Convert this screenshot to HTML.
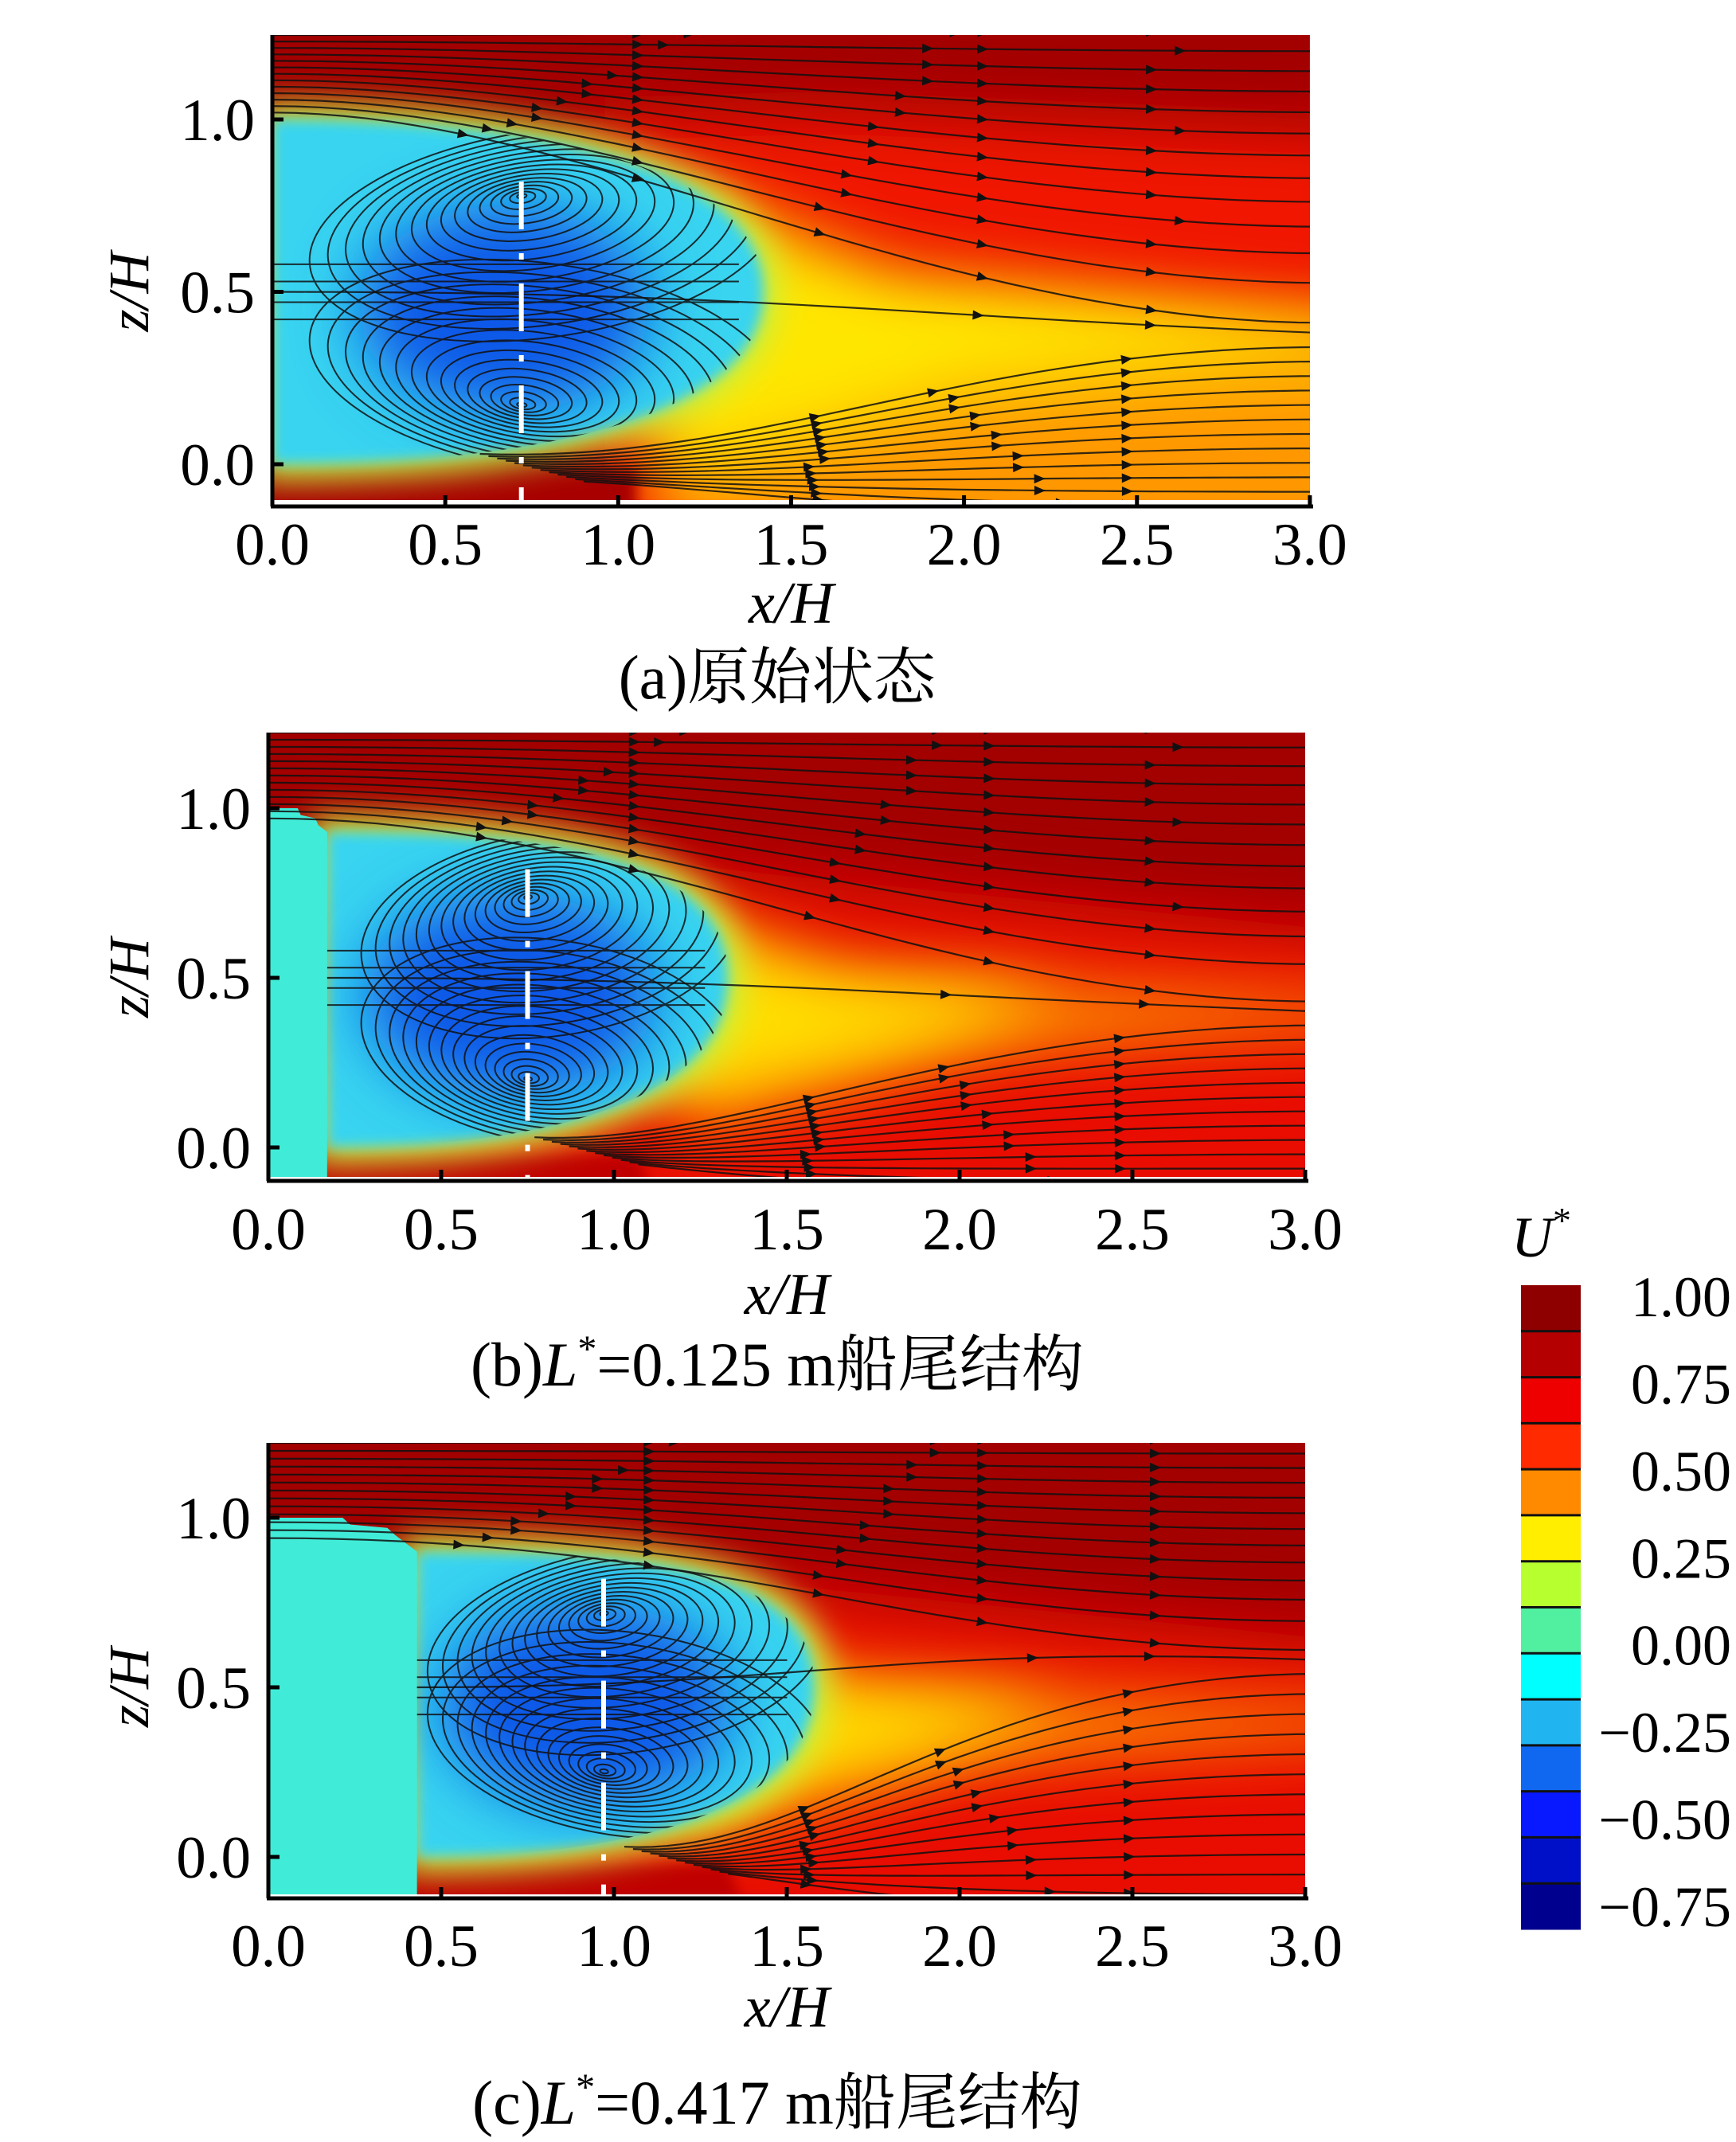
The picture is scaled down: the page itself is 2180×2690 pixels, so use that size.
<!DOCTYPE html>
<html><head><meta charset="utf-8"><style>
html,body{margin:0;padding:0;background:#fff;}
svg{display:block;}
text{font-family:"Liberation Serif","Noto Serif CJK SC","Noto Sans CJK SC",serif;fill:#000;}
</style></head><body>
<svg id="fig" xmlns="http://www.w3.org/2000/svg" width="2180" height="2690" viewBox="0 0 2180 2690">
<defs>
<filter id="b40" x="-50%" y="-50%" width="200%" height="200%"><feGaussianBlur stdDeviation="40"/></filter>
<filter id="b20" x="-50%" y="-50%" width="200%" height="200%"><feGaussianBlur stdDeviation="20"/></filter>
<filter id="b8" x="-50%" y="-50%" width="200%" height="200%"><feGaussianBlur stdDeviation="8"/></filter>
<filter id="b3" x="-50%" y="-50%" width="200%" height="200%"><feGaussianBlur stdDeviation="3"/></filter>
</defs>
</svg>
<script>
const xTicks=[0,0.5,1.0,1.5,2.0,2.5,3.0];
const zTicks=[0,0.5,1.0];
const cbTicks=[1.00,0.75,0.50,0.25,0.00,-0.25,-0.50,-0.75];
const cbBandColors=["#8e0000","#b40000","#ee0000","#ff2a00","#ff8a00","#ffee00","#b8ff30","#50f0a0","#00ffff","#20b4f0","#1068f0","#0818ff","#0010c8","#00008e"];
const blockEnds=[0,0.17,0.43];
const bubbleEnds=[1.42,1.33,1.58];
const bubbleTops=[1.0,0.93,0.9];
const vortexXs=[0.72,0.75,0.97];
const vortexUpperZ=[0.78,0.74,0.72];
const vortexLowerZ=[0.17,0.2,0.25];
const wakeZs=[0.38,0.4,0.58];
const captionsA=["(a)原始状态","(b)","(c)"];
const captionsL=["","=0.125 m船尾结构","=0.417 m船尾结构"];

const geo=[
 {x0:342,xs:434.3,z0:583,zs:433,top:44,bot:628,axisY:636,tickBase:709,xhBase:782,capBase:877},
 {x0:337,xs:434,z0:1441,zs:426,top:920,bot:1478,axisY:1483,tickBase:1569,xhBase:1650,capBase:1740},
 {x0:337,xs:434,z0:2332,zs:426,top:1812,bot:2379,axisY:2384,tickBase:2469,xhBase:2545,capBase:2667}
];
const NS="http://www.w3.org/2000/svg";
const svg=document.getElementById('fig');
const defs=svg.querySelector('defs');
function el(tag,attrs,parent){const e=document.createElementNS(NS,tag);for(const k in attrs)e.setAttribute(k,attrs[k]);parent.appendChild(e);return e;}
function bez(t,a,b,c,d){const u=1-t;return u*u*u*a+3*u*u*t*b+3*u*t*t*c+t*t*t*d;}

geo.forEach((g,i)=>{
 const X=x=>g.x0+x*g.xs, Z=z=>g.z0-z*g.zs;
 const xR3=X(3), zBot=(g.z0-g.bot)/g.zs, zTop=(g.z0-g.top)/g.zs;
 const xL=blockEnds[i], xR=bubbleEnds[i], bt=bubbleTops[i], wz=wakeZs[i], vx=vortexXs[i];
 const panel=el('g',{},svg);
 
 
 const cp=el('clipPath',{id:'clip'+i},defs);
 el('rect',{x:g.x0,y:g.top,width:xR3-g.x0,height:g.bot-g.top},cp);
 const bubD=`M${X(xL)},${Z(bt)} C${X(xL+0.55*(xR-xL))},${Z(bt)} ${X(xR)},${Z(0.86)} ${X(xR)},${Z(0.5)} C${X(xR)},${Z(0.14)} ${X(xL+0.55*(xR-xL))},${Z(0)} ${X(xL)},${Z(0)} Z`;
 const cb=el('clipPath',{id:'bub'+i},defs);
 el('path',{d:bubD},cb);
 const field=el('g',{'clip-path':`url(#clip${i})`},panel);
 
 
 const poly=(pts,fill,f)=>{const p=el('polygon',{points:pts.map(q=>X(q[0])+','+Z(q[1])).join(' '),fill:fill,filter:f?`url(#${f})`:''},field);return p;};
 el('rect',{x:g.x0-50,y:g.top-50,width:xR3-g.x0+100,height:g.bot-g.top+100,fill:'#a30000'},field);
 if(i===0){
  poly([[0.9,1.0],[1.6,1.02],[3.3,0.95],[3.3,-0.3],[0.9,-0.3]],'#f01800','b40');
  poly([[1.1,0.4],[2,0.4],[3.3,0.35],[3.3,-0.3],[1.1,-0.3]],'#ff9800','b40');
  poly([[1.2,0.8],[1.8,0.55],[3.2,0.42],[3.2,0.3],[2,0.2],[1.3,0.0],[1.1,0.0]],'#ffe600','b40');
  poly([[-0.2,-0.02],[1.05,-0.02],[1.05,-0.3],[-0.2,-0.3]],'#a80000','b8');
 }else{
  poly([[xL+0.2,bt],[1.5,0.8],[3.3,0.62],[3.3,-0.3],[xL,-0.3]],'#e81000','b40');
  poly([[1.0,0.75],[1.7,0.5],[3.2,0.43],[3.2,0.36],[2,0.28],[1.2,0.05]],'#ff9a00','b40');
  poly([[1.0,0.7],[1.6,0.5],[2.3,0.45],[2.0,0.33],[1.2,0.15]],'#ffe000','b40');
  poly([[xL,-0.02],[xL+0.9,-0.02],[xL+1.0,-0.3],[xL,-0.3]],'#c00000','b8');
 }
 el('path',{d:bubD,fill:'#a8f050',stroke:'#c8f040','stroke-width':40,filter:'url(#b20)'},field);
 el('path',{d:bubD,fill:'#38d4f0',filter:'url(#b8)'},field);
 el('ellipse',{cx:X(vx-0.05),cy:Z(0.45),rx:0.42*g.xs,ry:0.3*g.zs,fill:'#1058e8',filter:'url(#b40)','clip-path':`url(#bub${i})`},field);
 if(xL>0){
  const pts=[[0,1.0],[xL*0.5,1.0],[xL*0.55,0.98],[xL*0.8,0.97],[xL*0.85,0.95],[xL,bt],[xL,zBot-0.1],[0,zBot-0.1]];
  const b=el('polygon',{points:pts.map(q=>X(q[0])+','+Z(q[1])).join(' '),fill:'#40ecd8'},field);
  
  
 }
 const sl=el('g',{fill:'none',stroke:'#111','stroke-width':2.2,opacity:0.85},field);
 
 
 const arrows=el('g',{fill:'#111'},field);
 
 
 function curve(p0,p1,p2,p3,arrowXs){
  let d='';const pts=[];
  for(let k=0;k<=40;k++){const t=k/40;const x=bez(t,p0[0],p1[0],p2[0],p3[0]),z=bez(t,p0[1],p1[1],p2[1],p3[1]);pts.push([X(x),Z(z)]);d+=(k?'L':'M')+X(x).toFixed(1)+','+Z(z).toFixed(1);}
  const p=el('path',{d:d},sl);
  
  (arrowXs||[]).forEach(ax=>{const px=X(ax);for(let k=1;k<pts.length;k++){if(pts[k][0]>=px){const a=Math.atan2(pts[k][1]-pts[k-1][1],pts[k][0]-pts[k-1][0])*180/Math.PI;const tr=el('polygon',{points:'7,0 -7,-6 -7,6',transform:`translate(${pts[k][0]},${pts[k][1]}) rotate(${a})`},arrows);break;}}});
 }
 const nU=12;
 for(let k=0;k<=nU;k++){const t=k/nU;const zs=(i?bt+0.04:1.02)+t*(zTop-(i?bt+0.04:1.02));const ze=wz+0.03+Math.pow(t,0.8)*(zTop-0.02-wz);
  curve([0,zs],[xL+0.9,zs],[1.9,ze],[3.05,ze],[0.55+0.05*k%3,1.05,1.55+0.03*k,2.05,2.5+0.02*(k%4)]);}
 const nL=12;
 for(let k=0;k<=nL;k++){const t=k/nL;const zs=0.0-t*0.08;const ze=wz-0.04-t*(wz-zBot+0.02);
  curve([xL+0.9-0.3*(1-t),zs+0.03],[xR,zs],[2.0,ze],[3.05,ze],[1.55,1.9+0.03*k,2.45]);}
 curve([xL,0.5],[xR,0.5],[1.8,wz+0.05],[3.05,wz],[xR+0.6,2.5]);
 const vg=el('g',{'clip-path':`url(#bub${i})`,fill:'none',stroke:'#111','stroke-width':2,opacity:0.85},field);
 
 
 [[vortexUpperZ[i],-8],[vortexLowerZ[i],8]].forEach(v=>{
  const rxm=Math.max(vx-xL,xR-vx)*0.95, rym=0.3;
  for(let k=1;k<=16;k++){const f=Math.pow(k/16,1.4);const e=el('ellipse',{cx:X(vx+0.05*f),cy:Z(v[0]+(v[1]<0?-0.12:0.12)*f),rx:rxm*f*g.xs,ry:rym*f*g.zs,transform:`rotate(${v[1]} ${X(vx)} ${Z(v[0])})`},vg);}
 });
 [0.42,0.47,0.53,0.58].forEach(z=>{const e=el('line',{x1:X(xL),y1:Z(z),x2:X(xR*0.95),y2:Z(z)},vg);});
 const dash=el('line',{x1:X(vx),y1:Z(0.82),x2:X(vx),y2:g.bot,stroke:'#fff','stroke-width':6,'stroke-dasharray':'60 30 8 30'},field);
 
 
 const ax=el('g',{stroke:'#000','stroke-width':5,fill:'none'},panel);
 
 
 el('line',{x1:g.x0,y1:g.top,x2:g.x0,y2:g.axisY},ax);
 el('line',{x1:g.x0-2,y1:g.axisY,x2:X(3)+4,y2:g.axisY},ax);
 xTicks.forEach(v=>{const t=el('line',{x1:X(v),y1:g.axisY,x2:X(v),y2:g.axisY-14},ax);
  const tx=el('text',{x:X(v),y:g.tickBase,'font-size':75,'text-anchor':'middle'},panel);tx.textContent=v.toFixed(1);
  });
 zTicks.forEach(v=>{const t=el('line',{x1:g.x0,y1:Z(v),x2:g.x0+14,y2:Z(v)},ax);
  const tx=el('text',{x:g.x0-22,y:Z(v)+26,'font-size':75,'text-anchor':'end'},panel);tx.textContent=v.toFixed(1);
  });
 const zl=el('text',{x:0,y:0,'font-size':72,'font-style':'italic','text-anchor':'middle',transform:`translate(186 ${Z(0.5)}) rotate(-90)`},panel);
 zl.textContent='z/H';
 
 
 const xl=el('text',{x:(g.x0+X(3))/2,y:g.xhBase,'font-size':74,'font-style':'italic','text-anchor':'middle'},panel);
 xl.textContent='x/H';
 
 
 const cap=el('text',{x:976,y:g.capBase,'font-size':78,'text-anchor':'middle'},panel);
 
 
 const s1=el('tspan',{},cap);s1.textContent=captionsA[i];
 if(i>0){const s2=el('tspan',{'font-style':'italic'},cap);s2.textContent='L';
  const s3=el('tspan',{'font-size':48,dy:-30},cap);s3.textContent='*';
  const s4=el('tspan',{dy:30},cap);s4.textContent=captionsL[i];}
});
const cbX=1910,cbW=75,cbTop=1614,cbBot=2423;
const cbg=el('g',{},svg);


const bh=(cbBot-cbTop)/cbBandColors.length;
cbBandColors.forEach((c,k)=>{const r=el('rect',{x:cbX,y:cbTop+k*bh,width:cbW,height:bh+0.5,fill:c},cbg);
 if(k>0){const l=el('line',{x1:cbX,y1:cbTop+k*bh,x2:cbX+cbW,y2:cbTop+k*bh,stroke:'#111','stroke-width':3},cbg);}});
const vMax=1.0,vMin=-0.75;
const cy=v=>1628+(vMax-v)/(vMax-vMin)*(2394-1628);
cbTicks.forEach(v=>{const t=el('text',{x:2174,y:cy(v)+25,'font-size':72,'text-anchor':'end'},cbg);t.textContent=(v<0?'\u2212':'')+Math.abs(v).toFixed(2);
 });
const ut=el('text',{x:1898,y:1578,'font-size':72,'font-style':'italic'},cbg);


const u1=el('tspan',{},ut);u1.textContent='U';
const u2=el('tspan',{'font-size':46,dy:-30,'font-style':'normal'},ut);u2.textContent='*';
</script>
</body></html>
